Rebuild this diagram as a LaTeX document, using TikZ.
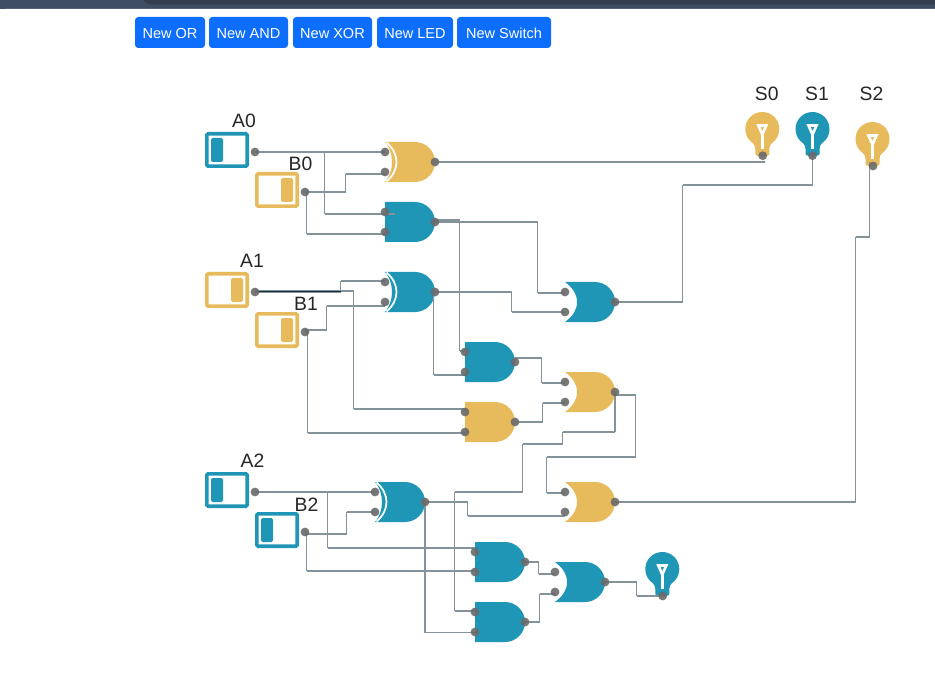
\documentclass[tikz,border=0pt]{standalone}
\usepackage{fontspec}
\setmainfont{Liberation Sans}
\usetikzlibrary{calc,decorations.pathreplacing}
\definecolor{tealc}{HTML}{1F96B6}
\definecolor{goldc}{HTML}{E7BA5B}
\definecolor{wirec}{HTML}{14303C}
\definecolor{wiregray}{HTML}{84939B}
\definecolor{btnc}{HTML}{0D6EFD}
\definecolor{barc}{HTML}{3F4D62}
\definecolor{bardark}{HTML}{333E4E}
\definecolor{portc}{HTML}{6A6A6A}
\pgfdeclarelayer{wires}
\pgfdeclarelayer{shapes}
\pgfsetlayers{shapes,wires,main}
% Upright runs of a wire are crisp and dark, level runs are spread out and grey.
\newif\ifwireupright
\def\wirevcol{wirec}
\def\wirevwidth{0.85pt}
\newcommand{\wireseg}{%
  \pgfpointdiff{\tikzinputsegmentfirst}{\tikzinputsegmentlast}%
  \pgfgetlastxy{\wdx}{\wdy}%
  \wireuprightfalse
  \ifdim\wdy>0.05pt \wireuprighttrue\fi
  \ifdim\wdy<-0.05pt \wireuprighttrue\fi
  \ifwireupright
    \draw[draw=\wirevcol,line width=\wirevwidth,line cap=square] (\tikzinputsegmentfirst) -- (\tikzinputsegmentlast);
  \else
    \draw[draw=wiregray,line width=1.3pt] (\tikzinputsegmentfirst) -- (\tikzinputsegmentlast);
  \fi}
\tikzset{
  wire/.style={decorate,decoration={show path construction,lineto code={\wireseg}}},
  grayrun/.code={\def\wirevcol{wiregray}\def\wirevwidth{1.3pt}},
  port/.style={circle,fill=portc,fill opacity=.9,minimum size=6.6pt,inner sep=0pt},
  btn/.style={rectangle,fill=btnc,text=white,rounded corners=2.5pt,inner sep=0pt,
     minimum height=23.25pt,text height=9pt,text depth=0pt,font=\fontsize{10.9pt}{12pt}\selectfont},
  lbl/.style={inner sep=0pt,text=black!85,font=\fontsize{14.5pt}{16pt}\selectfont},
  swbox/.style={rectangle,draw=#1,fill=white,line width=2.7pt,rounded corners=1pt,
     minimum width=30.3pt,minimum height=24.3pt,inner sep=0pt},
  swhandle/.style={rectangle,fill=#1,rounded corners=1.2pt,minimum width=9pt,
     minimum height=18pt,inner sep=0pt},
}
% name, x, y, colour
\newcommand{\gateports}[1]{%
  \node[port] (#1a) at (0,10) {};
  \node[port] (#1b) at (0,30) {};
  \node[port] (#1o) at (50,20) {};
}
\newcommand{\gatefront}{(30,0) .. controls (41,0) and (50,9) .. (50,20) .. controls (50,31) and (41,40) .. (30,40)}
\newcommand{\andgate}[4]{%
  \begin{scope}[shift={(#2,#3)}]
    \begin{pgfonlayer}{shapes}
      \fill[#4] (0,0) -- \gatefront -- (0,40) -- cycle;
    \end{pgfonlayer}
    \gateports{#1}
  \end{scope}}
\newcommand{\orgate}[4]{%
  \begin{scope}[shift={(#2,#3)}]
    \begin{pgfonlayer}{shapes}
      \fill[#4] (0,0) -- \gatefront -- (0,40) .. controls (8,34) and (12,28) .. (12,20) .. controls (12,12) and (8,6) .. (0,0) -- cycle;
    \end{pgfonlayer}
    \gateports{#1}
  \end{scope}}
\newcommand{\xorgate}[4]{%
  \begin{scope}[shift={(#2,#3)}]
    \begin{pgfonlayer}{shapes}
      \fill[#4] (0,0) -- \gatefront -- (0,40) .. controls (5,34) and (7,27) .. (7,20) .. controls (7,13) and (5,6) .. (0,0) -- cycle;
      \draw[white,line width=1.3pt] (1.5,0.5) .. controls (8,6) and (11.5,13) .. (11.5,20) .. controls (11.5,27) and (8,34) .. (1.5,39.5);
    \end{pgfonlayer}
    \gateports{#1}
  \end{scope}}
% name, bulb x, bulb y, colour, port x, port y
\newcommand{\bulb}[6]{%
  \begin{pgfonlayer}{shapes}
    \begin{scope}[shift={(#2,#3)}]
      \fill[#4] (0,0) circle[radius=17];
      \fill[#4] (-15,8) .. controls (-11,13) and (-7,15) .. (-7,20) -- (-7,25) .. controls (-7,28) and (7,28) .. (7,25) -- (7,20) .. controls (7,15) and (11,13) .. (15,8) -- cycle;
      \draw[white,line width=2pt,line join=miter] (-4,-3.5) -- (4,-3.5) -- (0,5.5) -- cycle;
      \draw[white,line width=1.9pt] (0,5.5) -- (0,20);
    \end{scope}
  \end{pgfonlayer}
  \node[port] (#1p) at (#5,#6) {};}
% name, left x, top y, colour, handle centre x
\newcommand{\switch}[5]{%
  \begin{pgfonlayer}{shapes}
    \node[swbox=#4] (#1box) at (#2+22,#3+18) {};
    \node[swhandle=#4] (#1hd) at (#5,#3+18) {};
  \end{pgfonlayer}
  \node[port] (#1o) at (#2+50,#3+20) {};}
\begin{document}
\begin{tikzpicture}[x=0.75pt,y=-0.75pt]
\useasboundingbox (0,0) rectangle (935,677);
\begin{pgfonlayer}{shapes}
  \fill[white] (0,0) rectangle (935,677);
  \fill[barc] (0,0) rectangle (935,9);
  \fill[white] (0,14) -- (0,13) .. controls (0,10) and (2,9) .. (5,9) -- (935,9) -- (935,14) -- cycle;
  \fill[bardark] (143,0) .. controls (145,3) and (147,4.3) .. (151,4.3) -- (935,4.3) -- (935,0) -- cycle;
\end{pgfonlayer}
% buttons
\node[btn,minimum width=52.5pt] (bor) at (170,32.5) {New OR};
\node[btn,minimum width=59.25pt] (band) at (248.5,32.5) {New AND};
\node[btn,minimum width=59.25pt] (bxor) at (332.5,32.5) {New XOR};
\node[btn,minimum width=57pt] (bled) at (415,32.5) {New LED};
\node[btn,minimum width=70.5pt] (bsw) at (504,32.5) {New Switch};
% switches
\switch{a0}{205}{132}{tealc}{217}
\switch{b0}{255}{172}{goldc}{287}
\switch{a1}{205}{272}{goldc}{237}
\switch{b1}{255}{312}{goldc}{287}
\switch{a2}{205}{472}{tealc}{217}
\switch{b2}{255}{512}{tealc}{267}
\node[lbl] (la0) at (244,120.5) {A0};
\node[lbl] (lb0) at (300.5,164) {B0};
\node[lbl] (la1) at (252,261) {A1};
\node[lbl] (lb1) at (306,303.5) {B1};
\node[lbl] (la2) at (252.5,461) {A2};
\node[lbl] (lb2) at (306.5,504.5) {B2};
% gates
\xorgate{x0}{385}{142}{goldc}
\andgate{n0}{385}{202}{tealc}
\xorgate{x1}{385}{272}{tealc}
\orgate{r1}{565}{282}{tealc}
\andgate{n1}{465}{342}{tealc}
\andgate{n2}{465}{402}{goldc}
\orgate{r2}{565}{372}{goldc}
\orgate{r3}{565}{482}{goldc}
\xorgate{x2}{375}{482}{tealc}
\andgate{n3}{475}{542}{tealc}
\andgate{n4}{475}{602}{tealc}
\orgate{r4}{555}{562}{tealc}
% bulbs
\bulb{s0}{762.3}{129}{goldc}{762.7}{155.7}
\bulb{s1}{812.5}{129}{tealc}{812.5}{155.7}
\bulb{s2}{872.5}{139}{goldc}{873}{166}
\bulb{s3}{662.3}{569}{tealc}{662.7}{596}
\node[lbl] (ls0) at (766.7,94) {S0};
\node[lbl] (ls1) at (817,94) {S1};
\node[lbl] (ls2) at (871.5,94) {S2};
% wires
\begin{pgfonlayer}{wires}
\coordinate (r2turn) at (615,432);
\draw[wire] (a0o.center) -- (x0a.center);
\draw[wire] (a0o.center) -- (324.5,152) -- (324.5,214) -- ($(n0a)+(10,2)$);
\draw[wire] (b0o.center) -- (345.5,192) -- (345.5,174) -- ($(x0b)+(0,2)$);
\draw[wire] (b0o.center) -- (306.5,192) -- (306.5,234) -- ($(n0b)+(0,2)$);
\draw[wire] (x0o.center) -- ($(s0p)+(2.3,6.3)$);
\draw[wire] ($(n0o)+(0,-2)$) -- (459.5,220) -- (459.5,351) -- ($(n1a)+(0,-1)$);
\draw[wire] (n0o.center) -- (537.5,222) -- (537.5,293) -- ($(r1a)+(0,1)$);
\draw[wire] (a1o.center) -- (340.5,292) -- (340.5,281) -- ($(x1a)+(0,-1)$);
\draw[wire] ($(a1o)+(0,-1)$) -- (353.5,291) -- (353.5,409) -- ($(n2a)+(0,-3)$);
\draw[draw=wirec,line width=0.75pt] ($(a1o)+(0,-0.5)$) -- (340.5,291.5);
\draw[wire] ($(b1o)+(0,-2)$) -- (326.5,330) -- (326.5,306) -- ($(x1b)+(0,4)$);
\draw[wire] (b1o.center) -- (307.5,332) -- (307.5,433) -- ($(n2b)+(0,1)$);
\draw[wire] (x1o.center) -- (511.5,292) -- (511.5,312) -- (r1b.center);
\draw[wire] (x1o.center) -- (433.5,292) -- (433.5,375) -- ($(n1b)+(0,3)$);
\draw[wire] (r1o.center) -- (682.5,302) -- (682.5,185) -- (812.5,185) -- (s1p.center);
\draw[wire] ($(n1o)+(0,-4)$) -- (541.5,358) -- (541.5,383) -- ($(r2a)+(0,1)$);
\draw[wire] (n2o.center) -- (542.5,422) -- (542.5,403) -- ($(r2b)+(0,1)$);
\draw[wire,grayrun] (r2o.center) -- (r2turn);
\draw[wire] (r2turn) -- (562.5,432) -- (562.5,444) -- (522.5,444) -- (522.5,492) -- (454.5,492) -- (454.5,611) -- ($(n4a)+(0,-1)$);
\draw[wire] ($(r2o)+(0,3)$) -- (635.5,395) -- (635.5,457) -- (546.5,457) -- (546.5,493) -- ($(r3a)+(0,1)$);
\draw[wire] (r3o.center) -- (855.5,502) -- (855.5,237) -- (869.5,237) -- ($(s2p)+(-3.5,-4)$);
\draw[wire] (a2o.center) -- (x2a.center);
\draw[wire] (a2o.center) -- (327.5,492) -- (327.5,548) -- ($(n3a)+(0,-4)$);
\draw[wire] ($(b2o)+(0,2)$) -- (346.5,534) -- (346.5,512) -- (x2b.center);
\draw[wire] (b2o.center) -- (306.5,532) -- (306.5,571) -- ($(n3b)+(0,-1)$);
\draw[wire] (x2o.center) -- (467.5,502) -- (467.5,516) -- ($(r3b)+(0,4)$);
\draw[wire,grayrun] (x2o.center) -- (425,632.5) -- ($(n4b)+(0,0.5)$);
\draw[wire] (n3o.center) -- (538.5,562) -- (538.5,574) -- ($(r4a)+(0,2)$);
\draw[wire] (n4o.center) -- (539.5,622) -- (539.5,594) -- ($(r4b)+(0,2)$);
\draw[wire] (r4o.center) -- (636.5,582) -- (636.5,596) -- (s3p.center);
\end{pgfonlayer}
\end{tikzpicture}
\end{document}
